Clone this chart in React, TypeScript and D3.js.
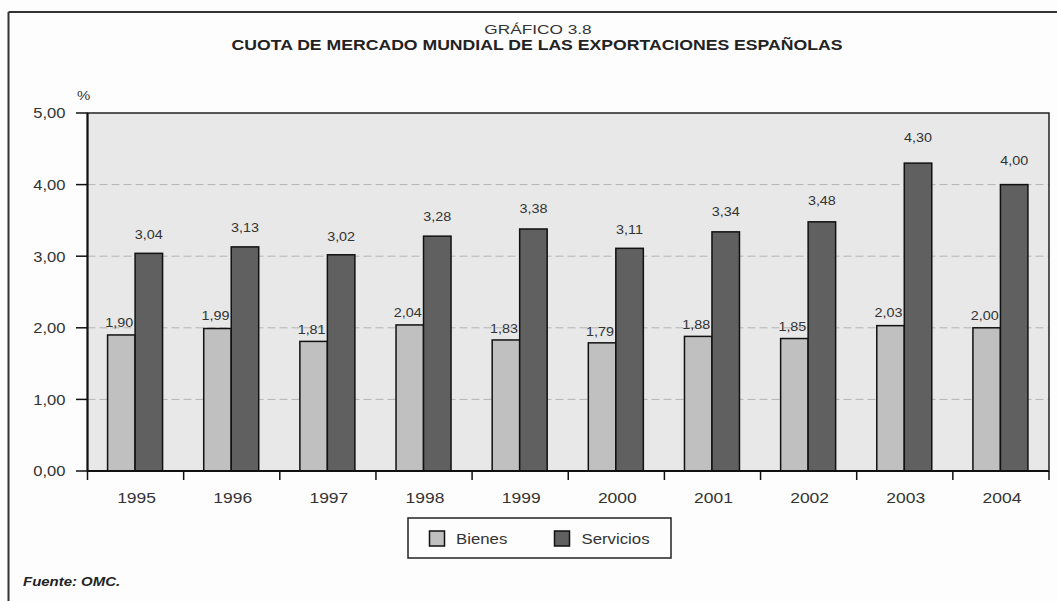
import React from "react";
import * as d3 from "d3";

const years = ["1995", "1996", "1997", "1998", "1999", "2000", "2001", "2002", "2003", "2004"];
const bienes = [1.9, 1.99, 1.81, 2.04, 1.83, 1.79, 1.88, 1.85, 2.03, 2.0];
const servicios = [3.04, 3.13, 3.02, 3.28, 3.38, 3.11, 3.34, 3.48, 4.3, 4.0];
const yTicks = [0, 1, 2, 3, 4, 5];
const seriesNames = ["Bienes", "Servicios"];
const seriesColors = ["#c0c0c0", "#606060"];

const W = 1057;
const H = 601;
const left = 87.5;
const right = 1049;
const top = 113;
const bottom = 471;
const SX = 1.15;

const fmt = (v: number) => v.toFixed(2).replace(".", ",");
const FONT = "'Liberation Sans', Arial, sans-serif";

function T(props: {
  x: number; y: number; size: number; anchor?: string; weight?: string; italic?: boolean; fill?: string; sx?: number; children: React.ReactNode;
}) {
  return (
    <text
      transform={`translate(${props.x},${props.y}) scale(${props.sx || SX},1)`}
      textAnchor={props.anchor || "start"}
      fontSize={props.size}
      fontWeight={props.weight || "normal"}
      fontStyle={props.italic ? "italic" : "normal"}
      fill={props.fill || "#333"}
    >
      {props.children}
    </text>
  );
}

export default function App() {
  const x = d3.scaleBand<string>().domain(years).range([left, right]).paddingInner(0).paddingOuter(0);
  const y = d3.scaleLinear().domain([0, 5]).range([bottom, top]);
  const yLabel = d3.scaleLinear().domain([0, 5]).range([474, 88]);
  const inner = d3.scaleBand<string>().domain(seriesNames).range([0, 55]);
  const bw = x.bandwidth();
  const groupOffset = (bw - 55) / 2 - 0.5;
  const data = [bienes, servicios];

  return (
    <svg width={W} height={H} style={{ position: "absolute", left: 0, top: 0, background: "#fdfdfd" }} fontFamily={FONT}>
      <rect x={0} y={0} width={W} height={H} fill="#fdfdfd" />
      {/* outer frame */}
      <line x1={8.5} y1={12} x2={W} y2={12} stroke="#333" strokeWidth={2} />
      <line x1={8.5} y1={12} x2={8.5} y2={H} stroke="#333" strokeWidth={2} />
      {/* titles */}
      <T x={538} y={34} size={12.5} sx={1.38} anchor="middle">GRÁFICO 3.8</T>
      <T x={537} y={50} size={14} sx={1.26} anchor="middle" weight="bold" fill="#222">
        CUOTA DE MERCADO MUNDIAL DE LAS EXPORTACIONES ESPAÑOLAS
      </T>
      <T x={77} y={100} size={13}>%</T>
      {/* plot area */}
      <rect x={left} y={top} width={right - left} height={bottom - top} fill="#e8e8e8" />
      {yTicks.filter(t => t > 0 && t < 5).map(t => (
        <line key={t} x1={left} x2={right} y1={y(t)} y2={y(t)} stroke="#b4b4b4" strokeWidth={1} strokeDasharray="8,4" />
      ))}
      <rect x={left} y={top} width={right - left} height={bottom - top} fill="none" stroke="#222" strokeWidth={1.5} />
      {/* bars */}
      {data.map((series, si) =>
        series.map((v, i) => {
          const bx = (x(years[i]) as number) + groupOffset + (inner(seriesNames[si]) as number);
          return (
            <rect key={`${si}-${i}`} x={bx} y={y(v)} width={inner.bandwidth()} height={bottom - y(v)}
              fill={seriesColors[si]} stroke="#111" strokeWidth={1.5} />
          );
        })
      )}
      {data.map((series, si) =>
        series.map((v, i) => {
          const bx = (x(years[i]) as number) + groupOffset + (inner(seriesNames[si]) as number) + inner.bandwidth() / 2 - (si === 0 ? 2 : 0);
          return (
            <T key={`l${si}-${i}`} x={bx} y={yLabel(v)} anchor="middle" size={12.5}>
              {fmt(v)}
            </T>
          );
        })
      )}
      {/* axes */}
      <line x1={left} x2={right} y1={bottom} y2={bottom} stroke="#111" strokeWidth={2} />
      <line x1={left} x2={left} y1={top} y2={bottom} stroke="#111" strokeWidth={2} />
      {yTicks.map(t => (
        <g key={t}>
          <line x1={76} x2={left} y1={y(t)} y2={y(t)} stroke="#111" strokeWidth={1.5} />
          <T x={65.5} y={y(t) + 5.3} anchor="end" size={14.4}>{fmt(t)}</T>
        </g>
      ))}
      {[...years.map(yr => x(yr) as number), right].map((px, i) => (
        <line key={i} x1={px} x2={px} y1={bottom} y2={480} stroke="#111" strokeWidth={1.5} />
      ))}
      {years.map(yr => (
        <T key={yr} x={(x(yr) as number) + bw / 2 + 1} y={502.5} anchor="middle" size={15.2}>{yr}</T>
      ))}
      {/* legend */}
      <rect x={408} y={518} width={263} height={40} fill="#fdfdfd" stroke="#222" strokeWidth={1.5} />
      <rect x={429.5} y={531} width={15} height={15} fill={seriesColors[0]} stroke="#111" strokeWidth={1.5} />
      <T x={456} y={544} size={14.6}>{seriesNames[0]}</T>
      <rect x={554.5} y={531} width={15} height={15} fill={seriesColors[1]} stroke="#111" strokeWidth={1.5} />
      <T x={581.5} y={544} size={14.6}>{seriesNames[1]}</T>
      {/* source */}
      <T x={23} y={586} size={13} weight="bold" italic fill="#222">Fuente: OMC.</T>
    </svg>
  );
}
